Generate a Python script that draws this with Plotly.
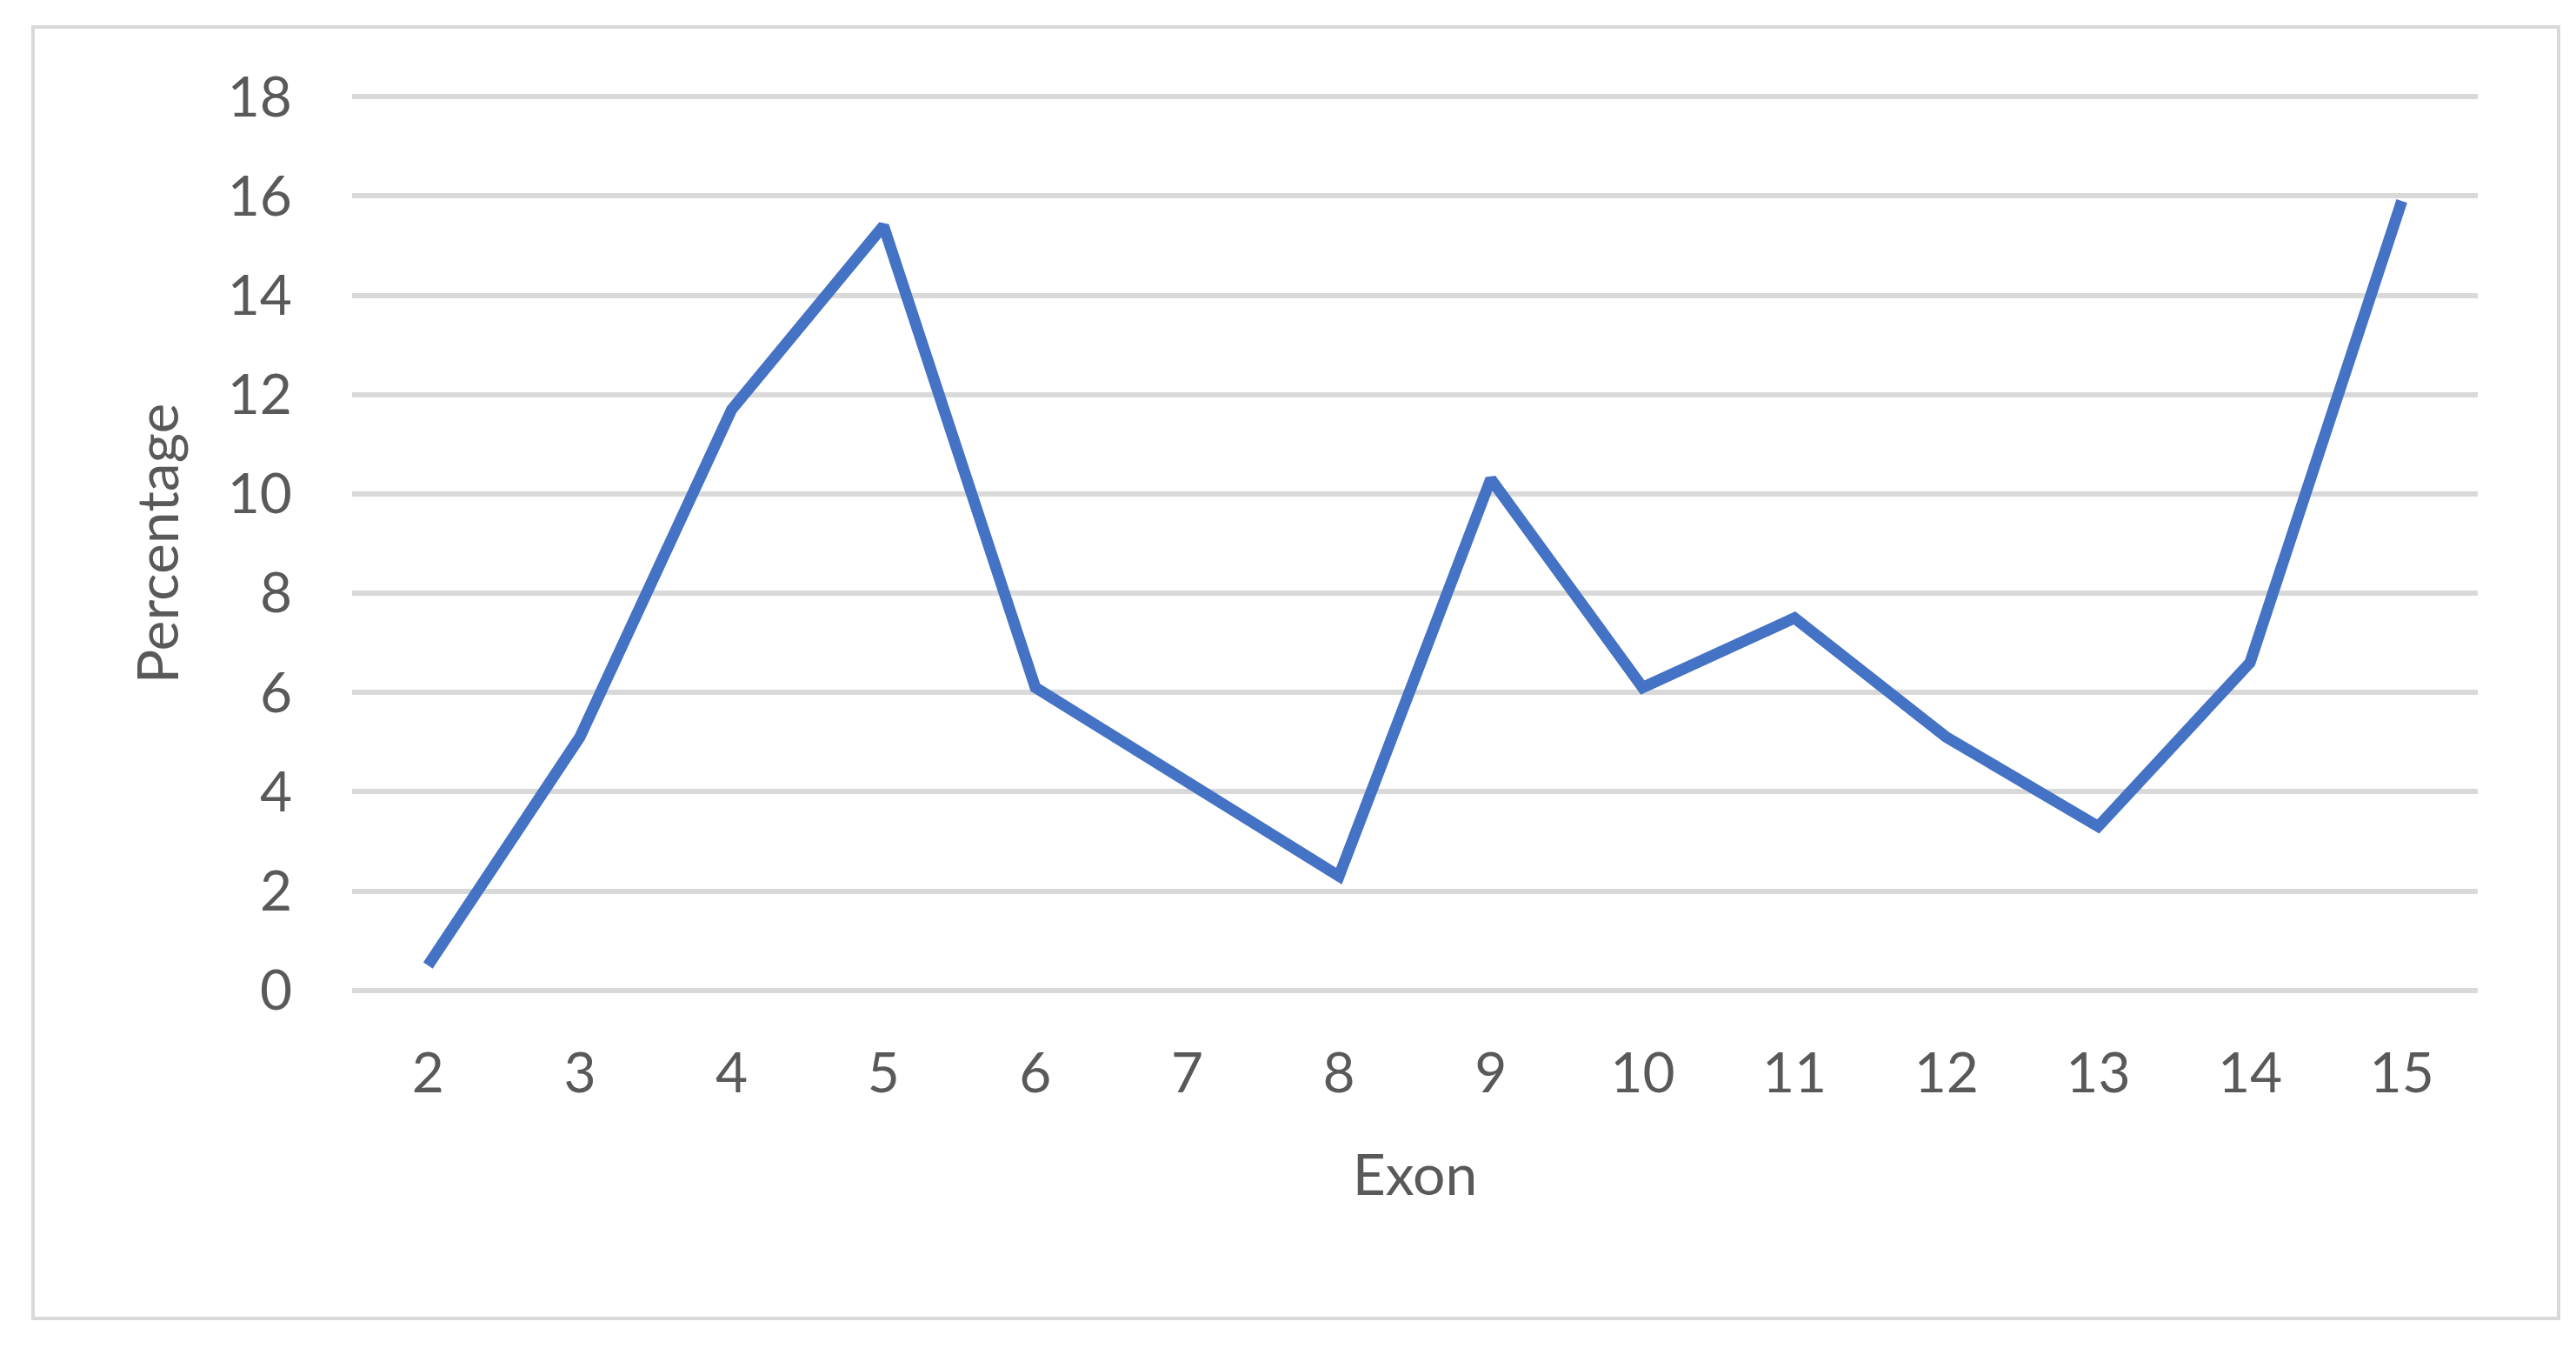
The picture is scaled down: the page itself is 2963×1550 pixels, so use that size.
import plotly.graph_objects as go

exons = ["2", "3", "4", "5", "6", "7", "8", "9", "10", "11", "12", "13", "14", "15"]
percentage = [0.5, 5.1, 11.7, 15.4, 6.1, 4.2, 2.3, 10.3, 6.1, 7.5, 5.1, 3.3, 6.6, 15.9]
y_ticks = [0, 2, 4, 6, 8, 10, 12, 14, 16, 18]

W, H = 2963, 1550
L, R, T, B = 397, 121, 101, 417
font = "Lato, 'Open Sans', sans-serif"
grey = "#595959"

fig = go.Figure()
fig.add_trace(
    go.Scatter(
        x=exons, y=percentage, mode="lines",
        line=dict(color="#4472C4", width=13),
        showlegend=False,
    )
)

# outer chart border, given in pixels and converted to paper coords
pw, ph = W - L - R, H - T - B
def px(x):
    return (x - L) / pw
def py(y):
    return (H - B - y) / ph

fig.add_shape(
    type="rect", xref="paper", yref="paper",
    x0=px(30), x1=px(2935), y0=py(1508), y1=py(23),
    line=dict(color="#D9D9D9", width=4), layer="below",
)

fig.update_layout(
    width=W, height=H,
    margin=dict(l=L, r=R, t=T, b=B),
    paper_bgcolor="white", plot_bgcolor="white",
    font=dict(family=font, color=grey, size=64),
    xaxis=dict(
        type="category", range=[-0.5, len(exons) - 0.5],
        showgrid=False, zeroline=False, showline=False,
        ticks="", ticklabelstandoff=50,
        title=dict(text="Exon", standoff=58, font=dict(size=66)),
    ),
    yaxis=dict(
        range=[-0.04, 18.04], tickvals=y_ticks, showgrid=True,
        gridcolor="#D9D9D9", gridwidth=6, zeroline=False, showline=False,
        ticks="", ticklabelstandoff=68,
        title=dict(text="Percentage", standoff=34, font=dict(size=66)),
    ),
)

fig.write_html("out.html")
